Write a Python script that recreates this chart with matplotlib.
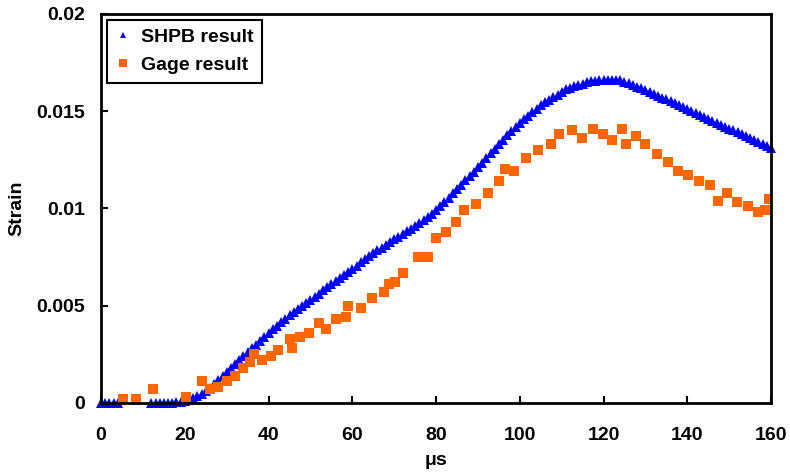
import numpy as np
import matplotlib
matplotlib.use("Agg")
import matplotlib.pyplot as plt

plt.rcParams['font.family'] = ['Liberation Sans', 'DejaVu Sans']
plt.rcParams['font.weight'] = 'bold'

# SHPB result, sampled every 1 us (nan where the curve is off the plot)
shpb_t = np.arange(0, 161, 1.0)
shpb_strain = [
    0, 0, 0, 0, 0,
    np.nan, np.nan, np.nan, np.nan, np.nan, np.nan, np.nan,
    0, 0, 0, 0, 0.00001, 0.00002, 0.00004, 0.00007,
    0.0001, 0.00017, 0.00026, 0.00036, 0.00047,
    0.0006, 0.00078, 0.00098, 0.00118, 0.00139,
    0.0016, 0.0018, 0.0020, 0.0022, 0.0024,
    0.0026, 0.0028, 0.0030, 0.0032, 0.0034,
    0.0036, 0.00378, 0.00396, 0.00414, 0.00432,
    0.0045, 0.00466, 0.00482, 0.00498, 0.00514,
    0.0053, 0.00546, 0.00562, 0.00578, 0.00594,
    0.0061, 0.00626, 0.00642, 0.00658, 0.00674,
    0.0069, 0.00706, 0.00722, 0.00738, 0.00754,
    0.0077, 0.00784, 0.00798, 0.00812, 0.00826,
    0.0084, 0.00854, 0.00868, 0.00882, 0.00896,
    0.0091, 0.00925, 0.0094, 0.00956, 0.00973,
    0.0099, 0.01011, 0.01032, 0.01054, 0.01077,
    0.0110, 0.01122, 0.01144, 0.01166, 0.01188,
    0.0121, 0.01234, 0.01258, 0.01282, 0.01306,
    0.0133, 0.01353, 0.01375, 0.01397, 0.01419,
    0.0144, 0.01459, 0.01477, 0.01494, 0.01509,
    0.0153, 0.01545, 0.01559, 0.01572, 0.01583,
    0.0160, 0.01611, 0.0162, 0.01628, 0.01634,
    0.0164, 0.01647, 0.01652, 0.01656, 0.01659,
    0.0166, 0.01661, 0.01661, 0.0166, 0.01657,
    0.0165, 0.01643, 0.01634, 0.01625, 0.01617,
    0.0161, 0.01599, 0.01589, 0.01579, 0.01569,
    0.0156, 0.0155, 0.0154, 0.0153, 0.0152,
    0.0151, 0.0150, 0.0149, 0.0148, 0.0147,
    0.0146, 0.0145, 0.0144, 0.0143, 0.0142,
    0.0141, 0.0140, 0.0139, 0.0138, 0.0137,
    0.0136, 0.0135, 0.0134, 0.0133, 0.0132,
    0.0131,
]

# strain gage result
gage_t = [
    5.3, 8.3, 12.4, 20.2, 24.2, 26.0, 28.0, 30.0, 32.0, 34.0,
    35.6, 36.5, 38.5, 40.5, 42.3, 45.0, 45.6, 47.4, 49.7, 52.0,
    53.7, 56.0, 58.5, 59.0, 62.0, 64.7, 67.6, 68.8, 70.2, 72.2,
    75.6, 78.0, 80.0, 82.4, 84.8, 86.7, 89.5, 92.3, 95.0, 96.5,
    98.7, 101.5, 104.3, 107.5, 109.4, 112.4, 114.8, 117.4, 119.8, 121.9,
    124.4, 125.4, 127.8, 130.0, 132.8, 135.5, 137.7, 140.2, 142.8, 145.5,
    147.4, 149.6, 151.9, 154.6, 156.8, 158.5, 159.6,
]
gage_strain = [
    0.0002, 0.0002, 0.0007, 0.0003, 0.0011, 0.0007, 0.0008, 0.0011, 0.0014, 0.0018,
    0.0021, 0.0025, 0.0022, 0.0024, 0.0027, 0.0033, 0.0028, 0.0034, 0.0036, 0.0041,
    0.0038, 0.0043, 0.0044, 0.0050, 0.0049, 0.0054, 0.0057, 0.0061, 0.0062, 0.0067,
    0.0075, 0.0075, 0.0085, 0.0088, 0.0093, 0.0099, 0.0102, 0.0108, 0.0114, 0.0120,
    0.0119, 0.0126, 0.0130, 0.0133, 0.0138, 0.0140, 0.0136, 0.0141, 0.0138, 0.0135,
    0.0141, 0.0133, 0.0137, 0.0133, 0.0128, 0.0124, 0.0119, 0.0117, 0.0114, 0.0112,
    0.0104, 0.0108, 0.0103, 0.0101, 0.0098, 0.0099, 0.0105,
]

x_ticks = [0, 20, 40, 60, 80, 100, 120, 140, 160]
y_ticks = [0, 0.005, 0.01, 0.015, 0.02]
y_tick_labels = ['0', '0.005', '0.01', '0.015', '0.02']

fig = plt.figure(figsize=(7.9, 4.74), dpi=100)
ax = fig.add_axes([0.128, 0.150, 0.848, 0.821])

ax.plot(shpb_t, shpb_strain, linestyle='none', marker='^', markersize=6.5,
        color='#0000FF', markeredgewidth=0, label='SHPB result', clip_on=False)
ax.plot(gage_t, gage_strain, linestyle='none', marker='s', markersize=7.5,
        color='#FF6600', markeredgewidth=0, label='Gage result')

ax.set_xlim(0, 160)
ax.set_ylim(0, 0.02)
ax.set_xticks(x_ticks)
ax.set_yticks(y_ticks)
ax.set_yticklabels(y_tick_labels)
ax.tick_params(direction='in', length=5, width=1.5, labelsize=14,
               top=False, right=False)
ax.tick_params(axis='x', pad=17)
ax.tick_params(axis='y', pad=11.5)
for side in ax.spines.values():
    side.set_linewidth(2)

ax.set_xlabel('\u03bcs', fontsize=14, fontweight='bold', labelpad=6)
ax.set_ylabel('Strain', fontsize=14, fontweight='bold', labelpad=8)

leg = ax.legend(loc='upper left', fontsize=14, frameon=True, fancybox=False,
                edgecolor='black', framealpha=1, borderpad=0.45, handlelength=0.8,
                handletextpad=0.5, markerscale=0.75, borderaxespad=0.3,
                labelspacing=0.55)
leg.get_frame().set_linewidth(1.5)

fig.savefig('out.png', dpi=100)
